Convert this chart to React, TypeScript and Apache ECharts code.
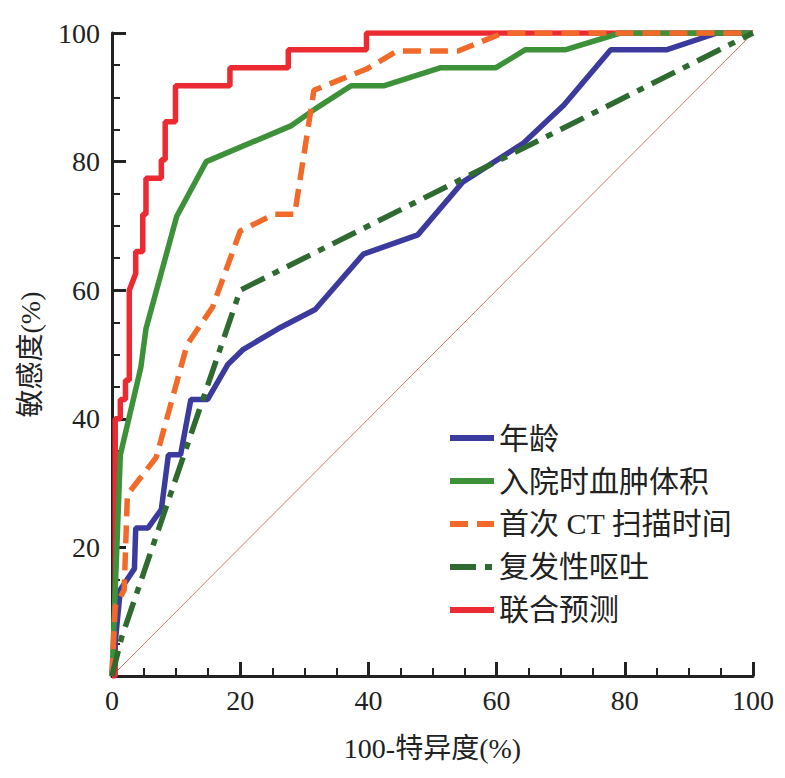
import { useEffect, useRef } from "react"
import * as echarts from "echarts"

// ROC curves, [100-specificity, sensitivity]
const legendNames = ["年龄", "入院时血肿体积", "首次 CT 扫描时间", "复发性呕吐", "联合预测"]
const colors = ["#3b3b9e", "#3c9139", "#f26a2a", "#2f6b31", "#ec2a31"]

const ageCurve = [
  [0, 0], [1.3, 13.4], [3.5, 16.7], [3.7, 23], [5.6, 23], [7.7, 25.9], [8.8, 34.4], [10.7, 34.4],
  [12.3, 43], [14.9, 43], [18.1, 48.5], [20.5, 50.8], [25.9, 54], [31.7, 57], [39.2, 65.6],
  [47.7, 68.6], [54.7, 76.8], [64.2, 82.9], [70.5, 88.8], [77.8, 97.4], [86.6, 97.4], [94.4, 100], [100, 100],
]
const volumeCurve = [
  [0, 0], [1.3, 34.4], [4.5, 48], [5.3, 54], [10.1, 71.5], [14.7, 80], [28, 85.6], [31.7, 88.2],
  [37.3, 91.8], [42.5, 91.8], [51.3, 94.6], [59.9, 94.6], [64.5, 97.4], [70.8, 97.4], [79.3, 100], [100, 100],
]
const ctTimeCurve = [
  [0, 0], [0.5, 10.8], [1.9, 13.4], [2.4, 28.2], [6.9, 34], [11.7, 51.5], [15.7, 57.4], [20, 69.2],
  [25.3, 71.8], [28.5, 71.8], [31.5, 91.1], [39.7, 94.4], [44.5, 97.2], [54, 97.2], [61, 100], [100, 100],
]
const vomitCurve = [[0, 0], [1.5, 6], [20, 60], [100, 100]]
const combinedCurve = [
  [0, 0], [0.5, 0], [0.5, 40], [1.3, 40], [1.3, 43], [2.1, 43], [2.1, 46], [2.7, 46], [2.7, 60],
  [3.7, 62.6], [3.7, 66], [4.8, 66], [4.8, 71.8], [5.3, 71.8], [5.3, 77.4], [7.7, 77.4], [7.7, 80.3],
  [8.3, 80.3], [8.3, 86.2], [9.9, 86.2], [9.9, 91.8], [18.4, 91.8], [18.4, 94.6], [27.5, 94.6],
  [27.5, 97.4], [39.7, 97.4], [39.7, 100], [100, 100],
]
const diagonal = [[0, 0], [100, 100]]

const curves = [ageCurve, volumeCurve, ctTimeCurve, vomitCurve, combinedCurve]
const dashes: any[] = ["solid", "solid", [18, 9], [26, 9, 7, 9], "solid"]

const font = '"Liberation Serif", "Noto Sans CJK SC", serif'

export default function App() {
  const chartRef = useRef<HTMLDivElement>(null)

  useEffect(() => {
    if (!chartRef.current) return
    const chart = echarts.init(chartRef.current, null, { renderer: "svg" })

    const axisCommon = {
      type: "value",
      min: 0,
      max: 100,
      interval: 20,
      axisLine: { show: true, lineStyle: { color: "#222", width: 3 } },
      axisTick: { show: true, inside: true, length: 14, lineStyle: { color: "#222", width: 3 } },
      minorTick: { show: true, splitNumber: 4, length: 8, lineStyle: { color: "#222", width: 2 } },
      splitLine: { show: false },
      nameTextStyle: { fontFamily: font, fontSize: 28, color: "#222" },
    }

    chart.setOption({
      animation: false,
      grid: { left: 99, right: 24, top: 25, bottom: 94 },
      xAxis: {
        ...axisCommon,
        name: "100-特异度(%)",
        nameLocation: "middle",
        nameGap: 58,
        axisLabel: { fontFamily: font, fontSize: 28, color: "#222", margin: 10 },
      },
      yAxis: {
        ...axisCommon,
        name: "敏感度(%)",
        nameLocation: "middle",
        nameGap: 68,
        axisLabel: {
          fontFamily: font, fontSize: 28, color: "#222", margin: 12,
          formatter: (v: number) => (v === 0 ? "" : String(v)),
        },
      },
      legend: {
        left: 434,
        top: 410,
        orient: "vertical",
        itemWidth: 44,
        itemHeight: 8,
        itemGap: 13,
        itemStyle: { opacity: 0 },
        lineStyle: { width: 6 },
        textStyle: { fontFamily: font, fontSize: 30, color: "#222" },
        data: legendNames,
      },
      series: [
        {
          type: "line",
          data: diagonal,
          symbol: "none",
          silent: true,
          lineStyle: { color: "#c0392b", width: 0.7 },
        },
        ...curves.map((c, i) => ({
          name: legendNames[i],
          type: "line",
          data: c,
          symbol: "none",
          z: i === 4 ? 1 : 2 + i,
          itemStyle: { color: colors[i] },
          lineStyle: { color: colors[i], width: 5.5, type: dashes[i] },
        })),
      ],
    })

    return () => chart.dispose()
  }, [])

  return <div ref={chartRef} style={{ width: 769, height: 762 }} />
}
